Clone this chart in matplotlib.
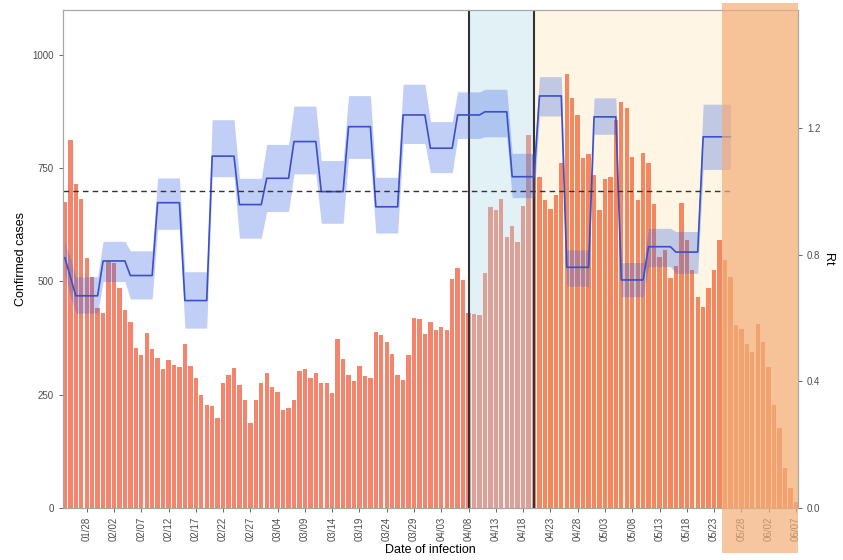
import matplotlib
matplotlib.use('Agg')
import matplotlib.pyplot as plt
import matplotlib.dates as mdates
from matplotlib.patches import Rectangle
from matplotlib.transforms import blended_transform_factory
import numpy as np
import pandas as pd

plt.rcParams['font.family'] = ['Liberation Sans', 'DejaVu Sans']

# daily confirmed cases by date of infection
dates = pd.date_range('2021-01-24', '2021-06-07', freq='D')
cases = [676, 813, 716, 681, 551, 510, 441, 430, 545, 540,
         485, 437, 411, 353, 337, 386, 351, 330, 306, 327,
         316, 312, 362, 313, 287, 249, 227, 226, 198, 275,
         293, 308, 271, 238, 188, 239, 276, 297, 266, 255,
         217, 221, 238, 302, 306, 286, 297, 276, 275, 253,
         372, 328, 293, 281, 313, 291, 286, 389, 382, 367,
         341, 293, 282, 338, 419, 417, 385, 411, 392, 400,
         392, 506, 529, 503, 430, 428, 426, 518, 665, 658,
         681, 599, 622, 588, 666, 823, 780, 731, 680, 661,
         691, 761, 959, 904, 867, 772, 782, 735, 658, 727,
         731, 856, 897, 882, 775, 680, 784, 761, 672, 555,
         569, 507, 534, 674, 591, 525, 466, 444, 485, 525,
         591, 547, 509, 404, 396, 363, 345, 407, 367, 312,
         227, 176, 88, 43, 14]

# Rt estimated per window (window start = day index from first date)
r_start = [0, 1, 2, 7, 12, 17, 22, 27, 32, 37, 42, 47, 52,
           57, 62, 67, 72, 77, 82, 87, 92, 97, 102, 107, 112, 117]
r_end = 123
r_mean = [0.79, 0.73, 0.67, 0.78, 0.734, 0.964, 0.655, 1.111, 0.958, 1.041, 1.157, 0.999, 1.204,
          0.951, 1.241, 1.136, 1.241, 1.251, 1.046, 1.301, 0.76, 1.235, 0.72, 0.825, 0.808, 1.172]
r_low = [0.74, 0.67, 0.615, 0.715, 0.66, 0.88, 0.568, 1.046, 0.852, 0.936, 1.055, 0.899, 1.104,
         0.868, 1.151, 1.059, 1.167, 1.172, 0.98, 1.238, 0.70, 1.18, 0.667, 0.762, 0.741, 1.069]
r_high = [0.84, 0.79, 0.73, 0.842, 0.812, 1.042, 0.746, 1.226, 1.041, 1.148, 1.269, 1.097, 1.302,
          1.044, 1.338, 1.22, 1.314, 1.322, 1.12, 1.362, 0.815, 1.295, 0.775, 0.883, 0.873, 1.275]

# periods
blue_start, blue_end = 74, 86     # 04/08 - 04/20
overlay_from = 120                 # unreliable recent period

tick_dates = pd.date_range('2021-01-28', '2021-06-07', freq='5D')
left_ticks = [0, 250, 500, 750, 1000]
right_ticks = [0.0, 0.4, 0.8, 1.2]

# expand windows to daily series
r_len = np.diff(r_start + [r_end])
r_days = dates[:r_end]
r_m = np.repeat(r_mean, r_len)
r_lo = np.repeat(r_low, r_len)
r_hi = np.repeat(r_high, r_len)

day = pd.Timedelta(days=1)
xmin = dates[0] - 0.35 * day
xmax = dates[-1] + 0.4 * day

fig = plt.figure(figsize=(8.43, 5.6), dpi=100)
ax = fig.add_axes([0.0747, 0.0929, 0.872, 0.889])

ax.bar(dates, cases, width=0.8, color='#F4846C', zorder=2)
ax.axvspan(dates[blue_start], dates[blue_end], color='#ADD8E6', alpha=0.35, lw=0, zorder=3)
ax.axvspan(dates[blue_end], xmax, color='#FFA500', alpha=0.1, lw=0, zorder=3)
ax.axvline(dates[blue_start], color='#333333', lw=1.5, zorder=4)
ax.axvline(dates[blue_end], color='#333333', lw=1.5, zorder=4)

ax.set_xlim(xmin, xmax)
ax.set_ylim(0, 1099)
ax.set_yticks(left_ticks)
ax.set_xticks(tick_dates)
ax.set_xticklabels([d.strftime('%m/%d') for d in tick_dates], rotation=90)
ax.tick_params(axis='both', labelsize=7, colors='#4D4D4D', length=3, width=0.6)
ax.set_ylabel('Confirmed cases', fontsize=9)
ax.set_xlabel('Date of infection', fontsize=9, labelpad=2)

ax2 = ax.twinx()
ax2.fill_between(r_days, r_lo, r_hi, color='#4169E1', alpha=0.32, lw=0)
ax2.plot(r_days, r_m, color='#3B4FC8', lw=1.2)
ax2.hlines(1.0, xmin, r_days[-1], colors='#333333', linestyles=(0, (4, 3)), lw=1)
ax2.set_ylim(0, 1.572)
ax2.set_yticks(right_ticks)
ax2.set_yticklabels(['%.1f' % t for t in right_ticks])
ax2.tick_params(axis='y', labelsize=7, colors='#4D4D4D', length=3, width=0.6)
ax2.set_ylabel('Rt', fontsize=9, rotation=-90, labelpad=10)

for a in (ax, ax2):
    for s in a.spines.values():
        s.set_color('#A6A6A6')
        s.set_linewidth(0.8)

# shaded box over the most recent days, spanning past the axes
trans = blended_transform_factory(ax.transData, fig.transFigure)
x0 = mdates.date2num(dates[overlay_from] + 0.5 * day)
x1 = mdates.date2num(xmax)
ax2.add_patch(Rectangle((x0, 0.0125), x1 - x0, 0.982, transform=trans,
                        color='#F1AE77', alpha=0.7, lw=0, clip_on=False, zorder=10))
ax2.set_xlim(xmin, xmax)
ax2.set_ylim(0, 1.572)

fig.savefig('out.png', dpi=100)
